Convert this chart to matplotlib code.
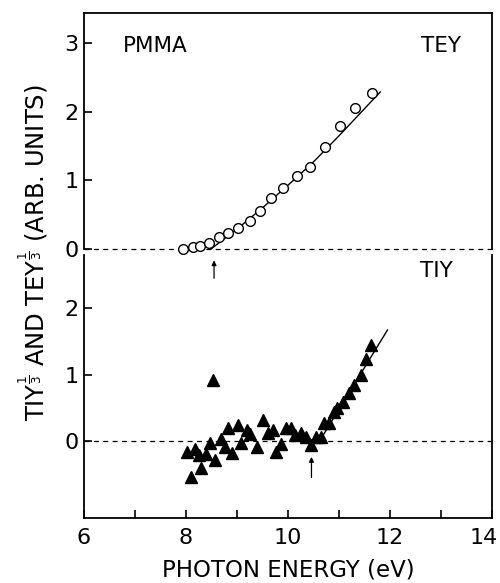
"""PMMA: TEY 与 TIY 的 1/3 次方随光子能量的变化（两个上下拼接的面板）。"""

import matplotlib

matplotlib.use("Agg")
import matplotlib.pyplot as plt
import matplotlib.transforms as mtransforms

# 上图 TEY^(1/3)：空心圆
tey_energy = [7.95, 8.13, 8.28, 8.46, 8.64, 8.83, 9.02, 9.25, 9.45, 9.67,
              9.91, 10.17, 10.43, 10.72, 11.01, 11.31, 11.65]
tey_value = [0.00, 0.03, 0.05, 0.09, 0.17, 0.23, 0.30, 0.41, 0.56, 0.75,
             0.89, 1.06, 1.20, 1.49, 1.79, 2.06, 2.28]
tey_fit_energy = [8.49, 8.7, 9.0, 9.5, 10.0, 10.5, 11.0, 11.81]
tey_fit_value = [0.00, 0.12, 0.29, 0.60, 0.93, 1.27, 1.65, 2.29]

# 下图 TIY^(1/3)：实心三角
tiy_energy = [8.01, 8.09, 8.18, 8.26, 8.30, 8.39, 8.48, 8.52, 8.57, 8.69,
              8.76, 8.83, 8.91, 9.02, 9.08, 9.19, 9.26, 9.40, 9.50, 9.61,
              9.71, 9.77, 9.87, 9.97, 10.05, 10.13, 10.26, 10.36, 10.46, 10.55,
              10.65, 10.71, 10.81, 10.90, 10.97, 11.07, 11.20, 11.30, 11.43, 11.53,
              11.62]
tiy_value = [-0.17, -0.54, -0.12, -0.21, -0.41, -0.19, -0.03, 0.92, -0.29, 0.03,
             -0.09, 0.19, -0.18, 0.24, -0.03, 0.17, 0.11, -0.09, 0.31, 0.12,
             0.17, -0.16, -0.05, 0.19, 0.19, 0.09, 0.12, 0.06, -0.06, 0.06,
             0.06, 0.27, 0.27, 0.44, 0.49, 0.59, 0.72, 0.84, 0.99, 1.23,
             1.45]
tiy_fit_energy = [10.62, 11.95]
tiy_fit_value = [0.00, 1.67]

# 阈值箭头位置
tey_onset = 8.55
tiy_onset = 10.46

x_major = [6, 8, 10, 12, 14]
x_minor = [7, 9, 11, 13]

plt.rcParams["font.family"] = ["DejaVu Sans"]
plt.rcParams["mathtext.fontset"] = "dejavusans"

fig = plt.figure(figsize=(5.0, 5.83), dpi=100)
ax_top = fig.add_axes([0.168, 0.5729, 0.816, 0.4048])
ax_bot = fig.add_axes([0.168, 0.1115, 0.816, 0.4511])

for ax in (ax_top, ax_bot):
    ax.set_xlim(6, 14)
    for side in ("left", "right", "top", "bottom"):
        ax.spines[side].set_linewidth(1.3)
    ax.tick_params(axis="y", direction="in", length=6, width=1.2, labelsize=16, pad=4)
    ax.axhline(0, color="black", lw=0.9, ls=(0, (4, 3.5)), clip_on=False)

# 上图
ax_top.set_ylim(0, 3.44)
ax_top.spines["bottom"].set_visible(False)
ax_top.set_yticks([0, 1, 2, 3])
ax_top.set_xticks([])
ax_top.plot(tey_fit_energy, tey_fit_value, color="black", lw=1.0, clip_on=False)
ax_top.plot(tey_energy, tey_value, "o", ms=7, mfc="white", mec="black", mew=1.0,
            clip_on=False, zorder=3)
ax_top.text(0.095, 0.86, "PMMA", transform=ax_top.transAxes, fontsize=15.5, va="center")
ax_top.text(0.925, 0.86, "TEY", transform=ax_top.transAxes, fontsize=15.5,
            va="center", ha="right")

# 下图
ax_bot.set_ylim(-1.16, 2.80)
ax_bot.spines["top"].set_visible(False)
ax_bot.set_yticks([0, 1, 2])
ax_bot.set_xticks(x_major)
ax_bot.set_xticks(x_minor, minor=True)
ax_bot.tick_params(axis="x", which="both", direction="in", length=6, width=1.2,
                   labelsize=16, pad=7, top=False)
# 最右边的 "14" 稍微左移，避免被画布边缘截断
last_label = ax_bot.get_xticklabels()[-1]
last_label.set_transform(last_label.get_transform()
                         + mtransforms.ScaledTranslation(-6 / 72, 0, fig.dpi_scale_trans))
ax_bot.plot(tiy_fit_energy, tiy_fit_value, color="black", lw=1.0)
ax_bot.plot(tiy_energy, tiy_value, "^", ms=8.5, color="black", zorder=3)
ax_bot.text(0.905, 0.94, "TIY", transform=ax_bot.transAxes, fontsize=15.5,
            va="center", ha="right")

arrow = dict(arrowstyle="-|>", lw=0.9, color="black", mutation_scale=7, shrinkA=0, shrinkB=0)
ax_bot.annotate("", xy=(tey_onset, 2.72), xytext=(tey_onset, 2.45), arrowprops=arrow)
ax_bot.annotate("", xy=(tiy_onset, -0.24), xytext=(tiy_onset, -0.55), arrowprops=arrow)

fig.text(0.066, 0.566, r"TIY$^{\frac{1}{3}}$ AND TEY$^{\frac{1}{3}}$ (ARB. UNITS)",
         rotation=90, ha="center", va="center", fontsize=17.5)
fig.text(0.576, 0.022, "PHOTON ENERGY (eV)", ha="center", va="center", fontsize=16.5)

fig.savefig("out.png", dpi=100, facecolor="white")
